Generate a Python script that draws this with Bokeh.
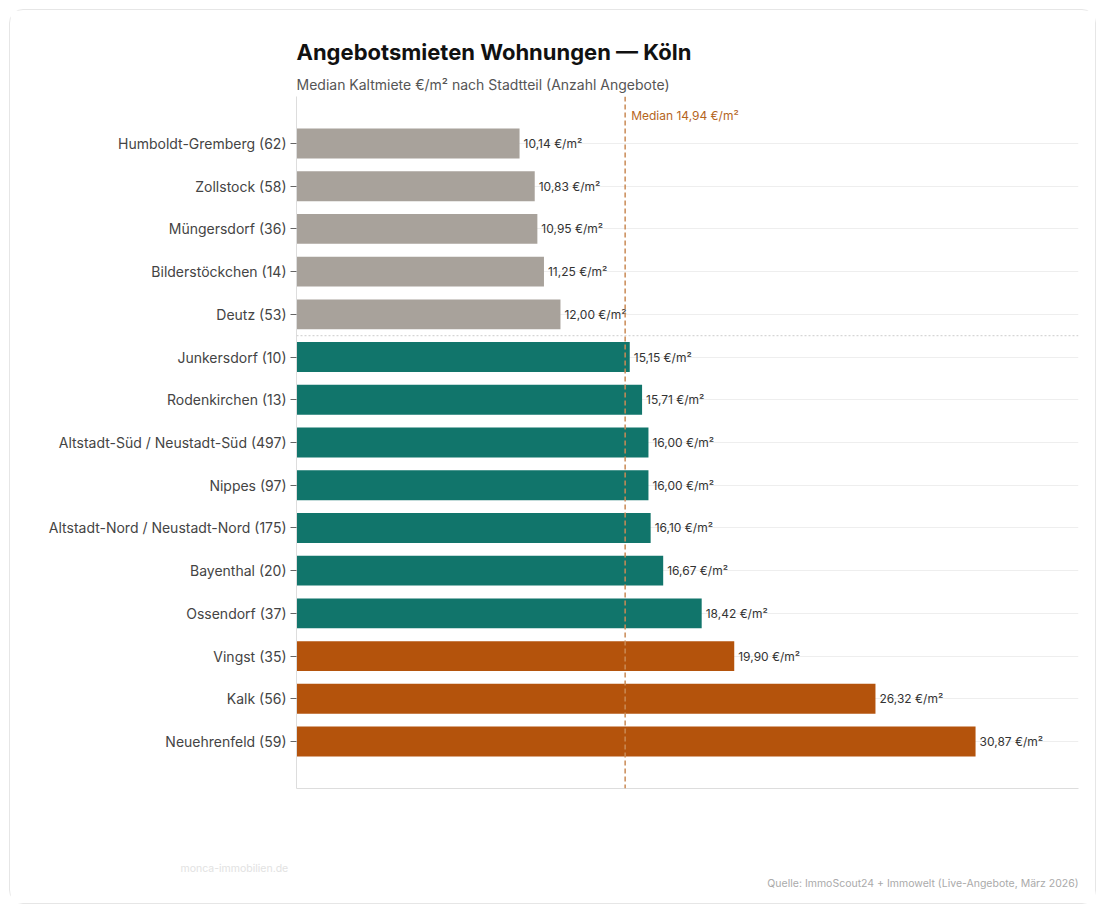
from bokeh.plotting import figure
from bokeh.models import (ColumnDataSource, Range1d, FixedTicker, Span, Label, Title,
                          CategoricalColorMapper)
from bokeh.core.properties import value
from bokeh.embed import file_html
from bokeh.resources import INLINE

# ---------------- data ----------------
districts = [
    "Humboldt-Gremberg", "Zollstock", "Müngersdorf", "Bilderstöckchen", "Deutz",
    "Junkersdorf", "Rodenkirchen", "Altstadt-Süd / Neustadt-Süd", "Nippes",
    "Altstadt-Nord / Neustadt-Nord", "Bayenthal", "Ossendorf", "Vingst", "Kalk",
    "Neuehrenfeld",
]
offers = [62, 58, 36, 14, 53, 10, 13, 497, 97, 175, 20, 37, 35, 56, 59]
rent = [10.14, 10.83, 10.95, 11.25, 12.00, 15.15, 15.71, 16.00, 16.00, 16.10,
        16.67, 18.42, 19.90, 26.32, 30.87]
tier = ["low"] * 5 + ["mid"] * 7 + ["high"] * 3
median_rent = 14.94

tier_names = ["low", "mid", "high"]
tier_colors = ["#a8a29b", "#11756b", "#b4530c"]

FONT = "Inter"

def de(v):
    return f"{v:.2f}".replace(".", ",")

idx = list(range(len(districts)))
tick_labels = {i: f"{d} ({n})" for i, d, n in zip(idx, districts, offers)}
src = ColumnDataSource(dict(
    y=idx, rent=rent, tier=tier,
    lbl=[f"{de(v)} €/m²" for v in rent],
))

W, H = 1087, 895
p = figure(width=W, height=H, output_backend="svg", toolbar_location=None,
           x_range=Range1d(0, 35.55),
           y_range=Range1d(len(districts) - 1 + 1.1, -1.1),
           min_border_left=286, min_border_right=19,
           min_border_top=86, min_border_bottom=117,
           background_fill_color="white", border_fill_color="white")
p.outline_line_color = None
p.styles = {"border": "1px solid #e6e6e6", "border-radius": "14px",
            "margin": "9px 0 0 9px"}

# titles
p.title.text = "Angebotsmieten Wohnungen — Köln"
p.title.text_font = FONT
p.title.text_font_size = "22px"
p.title.text_font_style = "bold"
p.title.text_color = "#111111"
p.title.align = "left"
p.title.standoff = 10
p.add_layout(Title(text="Median Kaltmiete €/m² nach Stadtteil (Anzahl Angebote)",
                   text_font=FONT, text_font_size="14px", text_font_style="normal",
                   text_color="#555555", align="left", standoff=8), "above")

cmap = CategoricalColorMapper(factors=tier_names, palette=tier_colors)
p.hbar(y="y", right="rent", left=0, height=0.7, source=src,
       fill_color={"field": "tier", "transform": cmap}, line_color=None)

p.text(x="rent", y="y", text="lbl", source=src, x_offset=4,
       text_baseline="middle", text_align="left", text_font_size="12px",
       text_color="#333333", text_font=value(FONT))

# axes
p.yaxis.ticker = FixedTicker(ticks=idx)
p.yaxis.major_label_overrides = tick_labels
p.yaxis.major_label_text_font = FONT
p.yaxis.major_label_text_font_size = "14px"
p.yaxis.major_label_text_color = "#444444"
p.yaxis.major_tick_out = 6
p.yaxis.major_tick_in = 0
p.yaxis.major_tick_line_color = "#666666"
p.yaxis.minor_tick_line_color = None
p.yaxis.major_label_standoff = 4
p.yaxis.axis_line_color = "#dddddd"

p.xaxis.major_label_text_color = None
p.xaxis.major_label_text_font_size = "11px"
p.xaxis.major_tick_line_color = None
p.xaxis.minor_tick_line_color = None
p.xaxis.axis_line_color = "#dddddd"

p.xgrid.grid_line_color = None
p.ygrid.grid_line_color = "#eeeeee"
p.ygrid.ticker = FixedTicker(ticks=idx)

# separator between below / above median
p.add_layout(Span(location=4.5, dimension="width", line_color="#cccccc",
                  line_dash="2 2", line_width=1))

# median line
p.add_layout(Span(location=median_rent, dimension="height", line_color="#c98a55",
                  line_dash="5 3", line_width=1.5))
p.add_layout(Label(x=median_rent, y=-0.66, x_offset=6, text=f"Median {de(median_rent)} €/m²",
                   text_baseline="middle", text_font_size="12px", text_color="#b5651d",
                   text_font=FONT, background_fill_color="white"))

# footer (spacer title pushes the footer lines down)
p.add_layout(Title(text=" ", text_font=FONT, text_font_size="10px",
                   text_color="white", standoff=51), "below")
p.add_layout(Title(text="monca-immobilien.de", text_font=FONT, text_font_size="10.5px",
                   text_font_style="normal", text_color="#e2e2e2", align="left",
                   offset=-116, standoff=0), "below")
p.add_layout(Title(text="Quelle: ImmoScout24 + Immowelt (Live-Angebote, März 2026)",
                   text_font=FONT, text_font_size="10.5px", text_font_style="normal",
                   text_color="#aaaaaa", align="right", standoff=0), "below")

open("out.html", "w").write(file_html(p, INLINE))
